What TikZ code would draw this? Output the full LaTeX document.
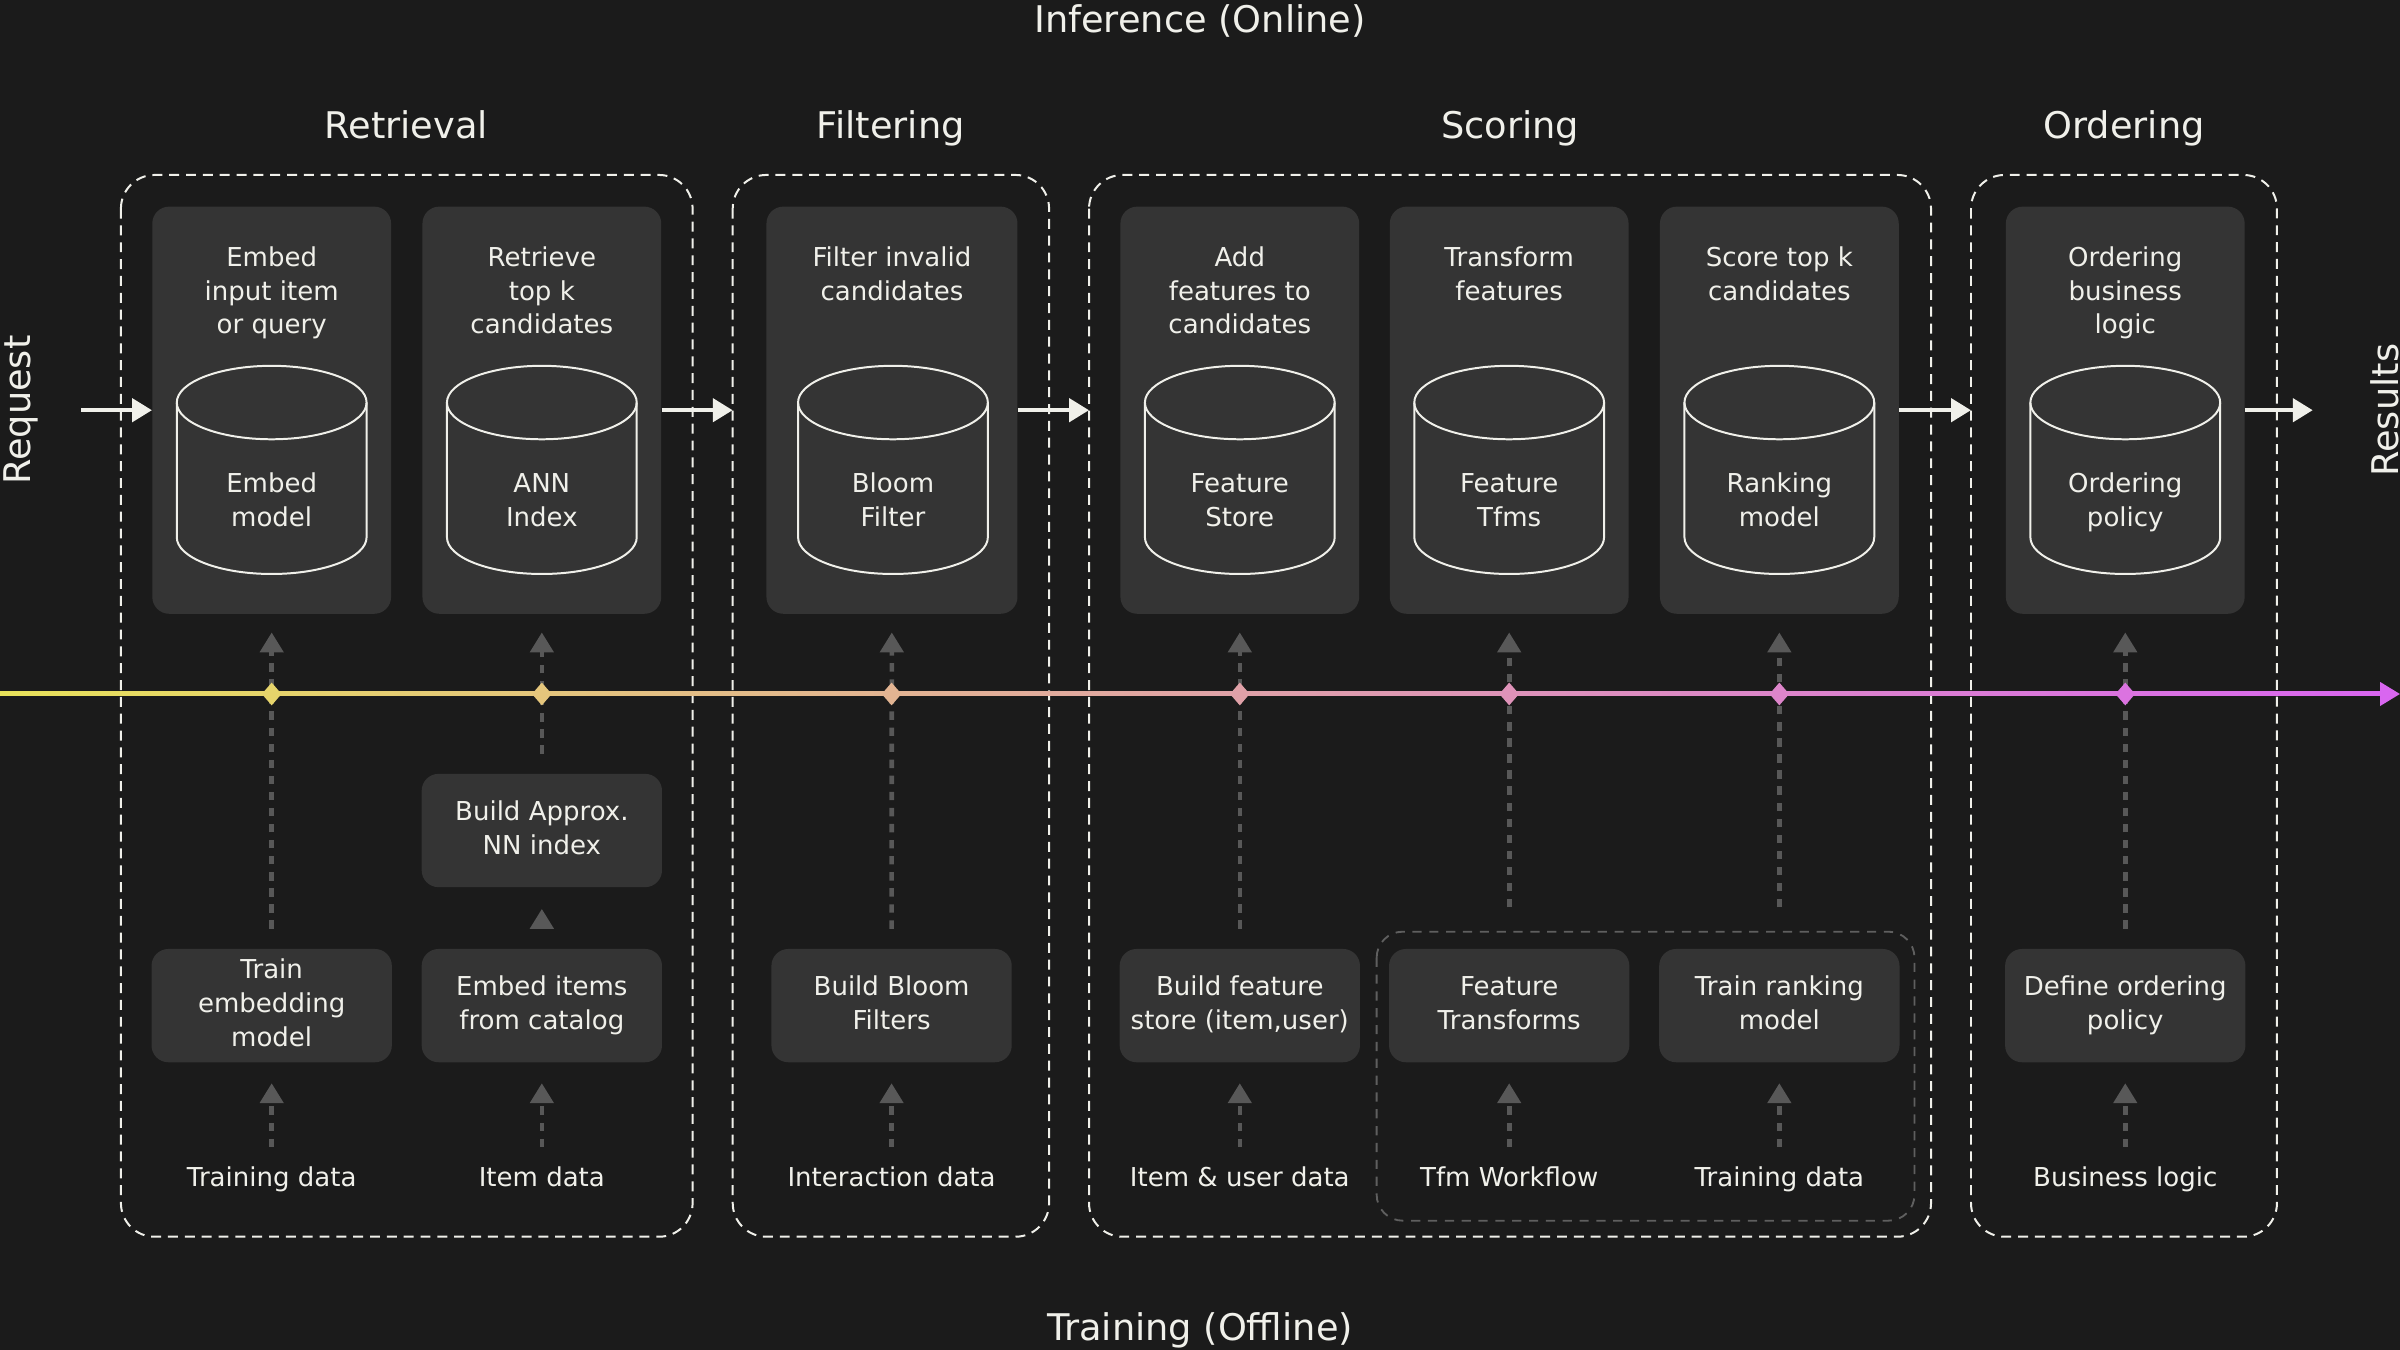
\documentclass[tikz,border=0pt]{standalone}
\usepackage{fontspec}
\setmainfont{DejaVu Sans}
\usetikzlibrary{arrows.meta,shapes.geometric}
\definecolor{bg}{RGB}{27,27,27}
\definecolor{boxfill}{RGB}{52,52,52}
\definecolor{fg}{RGB}{240,240,234}
\definecolor{garrow}{RGB}{88,88,88}
\definecolor{gdash}{RGB}{95,95,95}
\definecolor{tlA}{RGB}{232,226,90}
\definecolor{tlB}{RGB}{217,102,240}
\definecolor{dA}{RGB}{230,212,107}
\definecolor{dB}{RGB}{229,198,124}
\definecolor{dC}{RGB}{226,180,146}
\definecolor{dD}{RGB}{224,161,168}
\definecolor{dE}{RGB}{223,147,185}
\definecolor{dF}{RGB}{221,133,202}
\definecolor{dG}{RGB}{219,115,224}
\newcommand{\dbcyl}[1]{%
  \draw[cylline] (#1,263) ellipse [x radius=62pt, y radius=24pt];
  \draw[cylline] (#1-62,263) -- (#1-62,351) arc [start angle=180, end angle=360, x radius=62pt, y radius=24pt] -- (#1+62,263);
}
\begin{document}
\begin{tikzpicture}[x=1pt,y=-1pt,
  txt/.style={font=\fontsize{17}{22}\selectfont, text=fg, align=center, inner sep=0pt},
  ttl/.style={font=\fontsize{24}{28}\selectfont, text=fg, inner sep=0pt},
  stage/.style={draw=fg, line width=1.3pt, dash pattern=on 6.5pt off 4.5pt, rounded corners=22pt},
  subgrp/.style={draw=gdash, line width=1.2pt, dash pattern=on 6pt off 5pt, rounded corners=17pt},
  tbox/.style={fill=boxfill, rounded corners=11pt, minimum width=156pt, minimum height=266pt, inner sep=0pt},
  bbox/.style={txt, fill=boxfill, rounded corners=11pt, minimum width=157pt, minimum height=74pt},
  flow/.style={draw=fg, line width=3pt, -{Triangle[length=13pt,width=15pt]}},
  gconn/.style={draw=garrow, line width=3pt, dash pattern=on 5.5pt off 5pt, -{Triangle[length=13pt,width=15pt]}},
  cylline/.style={draw=fg, line width=1.3pt},
  dmd/.style={diamond, inner sep=0pt, minimum width=13pt, minimum height=15pt}
]
\useasboundingbox (0,0) rectangle (1568,882);
\fill[bg] (0,0) rectangle (1568,882);

% titles
\node[ttl, anchor=base] (inf) at (784,21) {Inference (Online)};
\node[ttl, anchor=base] (trn) at (784,876) {Training (Offline)};
\node[ttl, anchor=base] (hRet) at (265.5,90.5) {Retrieval};
\node[ttl, anchor=base] (hFil) at (582,90.5) {Filtering};
\node[ttl, anchor=base] (hSco) at (986.5,90.5) {Scoring};
\node[ttl, anchor=base] (hOrd) at (1387.7,90.5) {Ordering};
\node[ttl, anchor=base, rotate=90] (req) at (20,268) {Request};
\node[ttl, anchor=base, rotate=90] (res) at (1567,268) {Results};

% stage frames
\draw[stage] (79,114.3) rectangle (452.5,808);
\draw[stage] (478.7,114.3) rectangle (685.4,808);
\draw[stage] (711.5,114.3) rectangle (1261.6,808);
\draw[stage] (1287.7,114.3) rectangle (1487.6,808);
\draw[subgrp] (899.4,608.7) rectangle (1250.8,797.5);

% top boxes
\node[tbox] (t1) at (177.5,268) {};
\node[tbox] (t2) at (354,268) {};
\node[tbox, minimum width=164pt] (t3) at (582.75,268) {};
\node[tbox] (t4) at (810,268) {};
\node[tbox] (t5) at (986,268) {};
\node[tbox] (t6) at (1162.5,268) {};
\node[tbox] (t7) at (1388.5,268) {};

\node[txt, anchor=north] (t1h) at (177.5,158.6) {\strut Embed\\input item\\or query\strut};
\node[txt, anchor=north] (t2h) at (354,158.6) {\strut Retrieve\\top k\\candidates\strut};
\node[txt, anchor=north] (t3h) at (582.75,158.6) {\strut Filter invalid\\candidates\strut};
\node[txt, anchor=north] (t4h) at (810,158.6) {\strut Add\\features to\\candidates\strut};
\node[txt, anchor=north] (t5h) at (986,158.6) {\strut Transform\\features\strut};
\node[txt, anchor=north] (t6h) at (1162.5,158.6) {\strut Score top k\\candidates\strut};
\node[txt, anchor=north] (t7h) at (1388.5,158.6) {\strut Ordering\\business\\logic\strut};

% cylinders
\dbcyl{177.5}
\dbcyl{354}
\dbcyl{583.4}
\dbcyl{810}
\dbcyl{986}
\dbcyl{1162.5}
\dbcyl{1388.5}
\node[txt] (c1) at (177.5,328.6) {\strut Embed\\model\strut};
\node[txt] (c2) at (354,328.6) {\strut ANN\\Index\strut};
\node[txt] (c3) at (583.4,328.6) {\strut Bloom\\Filter\strut};
\node[txt] (c4) at (810,328.6) {\strut Feature\\Store\strut};
\node[txt] (c5) at (986,328.6) {\strut Feature\\Tfms\strut};
\node[txt] (c6) at (1162.5,328.6) {\strut Ranking\\model\strut};
\node[txt] (c7) at (1388.5,328.6) {\strut Ordering\\policy\strut};

% bottom boxes
\node[bbox] (b1) at (177.5,657) {\strut Train\\embedding\\model\strut};
\node[bbox] (b2) at (354,657) {\strut Embed items\\from catalog\strut};
\node[bbox] (ann) at (354,542.6) {\strut Build Approx.\\NN index\strut};
\node[bbox] (b3) at (582.5,657) {\strut Build Bloom\\Filters\strut};
\node[bbox] (b4) at (810,657) {\strut Build feature\\store (item,user)\strut};
\node[bbox] (b5) at (986,657) {\strut Feature\\Transforms\strut};
\node[bbox] (b6) at (1162.5,657) {\strut Train ranking\\model\strut};
\node[bbox] (b7) at (1388.5,657) {\strut Define ordering\\policy\strut};

% data labels
\node[txt] (l1) at (177.5,770.6) {\strut Training data};
\node[txt] (l2) at (354,770.6) {\strut Item data};
\node[txt] (l3) at (582.5,770.6) {\strut Interaction data};
\node[txt] (l4) at (810,770.6) {\strut Item \& user data};
\node[txt] (l5) at (986,770.6) {\strut Tfm Workflow};
\node[txt] (l6) at (1162.5,770.6) {\strut Training data};
\node[txt] (l7) at (1388.5,770.6) {\strut Business logic};

% inference flow
\coordinate (reqS) at (53,268);
\coordinate (filIn) at (478.7,268);
\coordinate (scoIn) at (711.5,268);
\coordinate (ordIn) at (1287.7,268);
\coordinate (resE) at (1511,268);
\draw[flow] (reqS) -- (t1);
\draw[flow] (t2) -- (filIn);
\draw[flow] (t3) -- (scoIn);
\draw[flow] (t6) -- (ordIn);
\draw[flow] (t7) -- (resE);

% offline connectors
\foreach \i in {1,...,7}{
  \draw[gconn, shorten <=10pt, shorten >=13.5pt] (l\i) -- (b\i);
}
\draw[gconn, shorten <=13pt, shorten >=12pt] (b1) -- (t1);
\draw[gconn, shorten <=13.5pt, shorten >=14pt] (b2) -- (ann);
\draw[gconn, shorten <=13pt, shorten >=12pt] (ann) -- (t2);
\draw[gconn, shorten <=13pt, shorten >=12pt] (b3) -- (t3);
\draw[gconn, shorten <=13pt, shorten >=12pt] (b4) -- (t4);
\draw[gconn, shorten <=27pt, shorten >=12pt] (b5) -- (t5);
\draw[gconn, shorten <=27pt, shorten >=12pt] (b6) -- (t6);
\draw[gconn, shorten <=13pt, shorten >=12pt] (b7) -- (t7);

% timeline
\coordinate (tlS) at (0,453.4);
\coordinate (tlM) at (1550,453.4);
\coordinate (tlE) at (1568,453.4);
\shade[left color=tlA, right color=tlB] (0,452.1) rectangle (1556,454.7);
\draw[draw=tlB, line width=2.6pt, -{Triangle[length=13pt,width=15pt]}] (tlM) -- (tlE);
\node[dmd, fill=dA] (m1) at (177.5,453.4) {};
\node[dmd, fill=dB] (m2) at (354,453.4) {};
\node[dmd, fill=dC] (m3) at (582.5,453.4) {};
\node[dmd, fill=dD] (m4) at (810,453.4) {};
\node[dmd, fill=dE] (m5) at (986,453.4) {};
\node[dmd, fill=dF] (m6) at (1162.5,453.4) {};
\node[dmd, fill=dG] (m7) at (1388.5,453.4) {};
\end{tikzpicture}
\end{document}
